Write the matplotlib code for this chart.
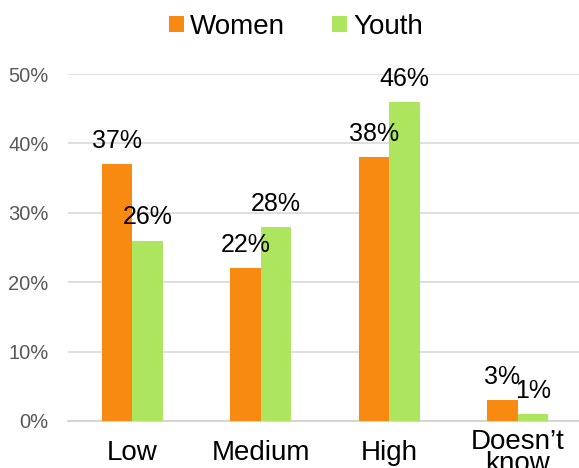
import numpy as np
import matplotlib.pyplot as plt
from matplotlib.ticker import PercentFormatter

plt.rcParams['font.family'] = ['Liberation Sans', 'DejaVu Sans']

categories = ['Low', 'Medium', 'High', 'Doesn\u2019t\nknow']
women = [37, 22, 38, 3]
youth = [26, 28, 46, 1]

orange = '#F88A12'
green = '#ADE55E'

fig = plt.figure(figsize=(5.79, 4.68), dpi=100)
ax = fig.add_axes([68 / 579, 1 - 421 / 468, 1 - 68 / 579, (421 - 74) / 468])

x = np.arange(len(categories))
w = 0.237
b1 = ax.bar(x - w / 2, women, w, color=orange, label='Women', zorder=3)
b2 = ax.bar(x + w / 2, youth, w, color=green, label='Youth', zorder=3)

for bars, vals in ((b1, women), (b2, youth)):
    for rect, v in zip(bars, vals):
        ax.annotate(f'{v}%', (rect.get_x() + rect.get_width() / 2, v),
                    xytext=(0, 8), textcoords='offset points',
                    ha='center', va='bottom', fontsize=18, color='black',
                    annotation_clip=False, zorder=4)

ax.set_ylim(0, 50)
ax.set_xlim(-0.5, 3.5 - 3 / 128.5)
ax.set_yticks(range(0, 51, 10))
ax.yaxis.set_major_formatter(PercentFormatter(decimals=0))
ax.grid(axis='y', color='#d9d9d9', linewidth=1.2, zorder=0)
for s in ('left', 'right', 'top'):
    ax.spines[s].set_visible(False)
ax.spines['bottom'].set_color('#d0d0d0')
ax.spines['bottom'].set_linewidth(1.2)

ax.tick_params(axis='y', length=0, labelsize=14.5, labelcolor='#595959', pad=14)
ax.set_xticks(x)
ax.set_xticklabels(categories, fontsize=20, linespacing=0.8)
ax.tick_params(axis='x', length=0, pad=23)
for lbl in ax.get_xticklabels():
    lbl.set_verticalalignment('center')

fig.legend(loc='upper center', bbox_to_anchor=(0.511, 1.0), ncol=2, frameon=False,
           fontsize=20, handlelength=0.54, handleheight=0.54, handletextpad=0.22,
           columnspacing=1.7, borderaxespad=0.1)

fig.savefig('out.png', dpi=100)
